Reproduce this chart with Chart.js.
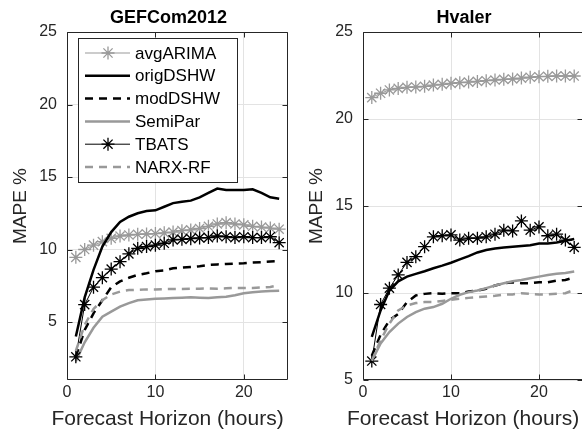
<!DOCTYPE html>
<html>
<head>
<meta charset="utf-8">
<script src="https://cdn.jsdelivr.net/npm/chart.js"></script>
<style>
  html, body { margin: 0; padding: 0; background: #fff; overflow: hidden; }
  #wrap { position: relative; width: 582px; height: 441px; overflow: hidden; }
  canvas { position: absolute; top: 0; }
  #left { left: 0; }
  #right { left: 296px; }
</style>
</head>
<body>
<div id="wrap">
  <canvas id="left" width="300" height="441"></canvas>
  <canvas id="right" width="287" height="441"></canvas>
</div>
<script>
// forecast horizon (hours)
const hours = [1, 2, 3, 4, 5, 6, 7, 8, 9, 10, 11, 12, 13, 14, 15, 16, 17, 18, 19, 20, 21, 22, 23, 24];
const seriesNames = ['avgARIMA', 'origDSHW', 'modDSHW', 'SemiPar', 'TBATS', 'NARX-RF'];
const xTicks = [0, 10, 20];
const yTicksLeft = [5, 10, 15, 20, 25];
const yTicksRight = [5, 10, 15, 20, 25];

// GEFCom2012 MAPE %
const gefArima = [9.46, 10.0, 10.3, 10.54, 10.77, 10.93, 11.0, 11.05, 11.07, 11.1, 11.15, 11.2, 11.3, 11.35, 11.45, 11.6, 11.76, 11.85, 11.76, 11.7, 11.6, 11.55, 11.48, 11.4];
const gefOrig = [4.0, 6.7, 8.6, 10.2, 11.2, 11.9, 12.26, 12.5, 12.66, 12.7, 12.95, 13.2, 13.3, 13.37, 13.6, 13.9, 14.2, 14.1, 14.1, 14.1, 14.15, 13.9, 13.6, 13.5];
const gefMod = [2.6, 4.45, 5.6, 6.5, 7.4, 7.8, 8.05, 8.25, 8.36, 8.5, 8.55, 8.7, 8.75, 8.8, 8.85, 8.93, 8.97, 9.0, 9.03, 9.05, 9.1, 9.13, 9.17, 9.2];
const gefSemi = [2.3, 3.6, 4.6, 5.37, 5.71, 6.06, 6.3, 6.5, 6.55, 6.6, 6.62, 6.65, 6.68, 6.7, 6.68, 6.65, 6.7, 6.74, 6.85, 6.98, 7.05, 7.1, 7.13, 7.16];
const gefTbats = [2.6, 6.2, 7.4, 8.06, 8.65, 9.16, 9.7, 10.08, 10.2, 10.3, 10.43, 10.66, 10.7, 10.75, 10.8, 10.82, 10.93, 10.88, 10.82, 10.88, 10.82, 10.82, 10.88, 10.47];
const gefNarx = [3.0, 4.8, 5.9, 6.5, 6.9, 7.1, 7.2, 7.22, 7.25, 7.25, 7.27, 7.28, 7.28, 7.3, 7.3, 7.32, 7.3, 7.32, 7.35, 7.35, 7.35, 7.38, 7.42, 7.55];

// Hvaler MAPE %
const hvArima = [21.23, 21.48, 21.67, 21.76, 21.82, 21.84, 21.88, 21.95, 21.99, 22.05, 22.09, 22.12, 22.16, 22.2, 22.24, 22.28, 22.3, 22.35, 22.4, 22.43, 22.45, 22.47, 22.47, 22.47];
const hvOrig = [7.48, 9.0, 10.14, 10.67, 10.94, 11.1, 11.25, 11.42, 11.57, 11.74, 11.93, 12.12, 12.33, 12.47, 12.56, 12.62, 12.66, 12.7, 12.75, 12.85, 12.85, 12.9, 13.0, 13.1];
const hvMod = [6.4, 7.6, 8.43, 8.8, 9.47, 9.86, 9.95, 9.99, 9.95, 9.99, 9.99, 10.08, 10.14, 10.24, 10.43, 10.56, 10.62, 10.56, 10.56, 10.62, 10.62, 10.71, 10.75, 10.9];
const hvSemi = [6.1, 7.1, 7.76, 8.24, 8.62, 8.9, 9.1, 9.19, 9.38, 9.67, 9.9, 10.05, 10.14, 10.28, 10.43, 10.56, 10.67, 10.75, 10.85, 10.94, 11.04, 11.1, 11.15, 11.23];
const hvTbats = [6.09, 9.34, 10.28, 11.04, 11.76, 12.09, 12.66, 13.23, 13.29, 13.34, 13.04, 13.15, 13.15, 13.23, 13.38, 13.61, 13.57, 14.14, 13.61, 13.8, 13.29, 13.38, 13.04, 12.62];
const hvNarx = [6.1, 7.29, 8.24, 9.0, 9.29, 9.42, 9.48, 9.48, 9.54, 9.61, 9.67, 9.72, 9.76, 9.8, 9.84, 9.9, 9.92, 9.99, 9.95, 9.92, 9.92, 9.95, 9.99, 10.18];

const FONT = '"Liberation Sans", Arial, Helvetica, sans-serif';
const AXIS = '#262626';
const GRAY = '#999999';

Chart.defaults.font.family = FONT;
Chart.defaults.color = AXIS;

const styles = [
  { borderColor: GRAY, borderWidth: 1, pointStyle: 'star', pointRadius: 6.5, pointBorderWidth: 1.3 },
  { borderColor: '#000', borderWidth: 2.5, pointRadius: 0 },
  { borderColor: '#000', borderWidth: 2.5, pointRadius: 0, borderDash: [8, 6] },
  { borderColor: GRAY, borderWidth: 2.5, pointRadius: 0 },
  { borderColor: '#000', borderWidth: 1, pointStyle: 'star', pointRadius: 6.5, pointBorderWidth: 1.3 },
  { borderColor: GRAY, borderWidth: 2.5, pointRadius: 0, borderDash: [8, 6] }
];

function makeDatasets(list) {
  return list.map((vals, i) => Object.assign({
    label: seriesNames[i],
    data: vals.map((v, k) => ({ x: hours[k], y: v })),
    pointBorderColor: styles[i].borderColor,
    pointBackgroundColor: styles[i].borderColor,
    tension: 0,
    fill: false,
    order: -i
  }, styles[i]));
}

// box, inward ticks, titles and in-axes legend like matlab
const matlabAxes = {
  id: 'matlabAxes',
  afterDraw(chart, args, opts) {
    const ctx = chart.ctx;
    const a = chart.chartArea;
    const xs = chart.scales.x, ys = chart.scales.y;
    ctx.save();
    ctx.strokeStyle = AXIS;
    ctx.lineWidth = 1;
    ctx.beginPath();
    const L = Math.round(a.left) + 0.5, R = Math.round(a.right) - 0.5;
    const T = Math.round(a.top) + 0.5, B = Math.round(a.bottom) - 0.5;
    ctx.rect(L, T, R - L, B - T);
    xs.ticks.forEach(t => {
      const px = Math.round(xs.getPixelForValue(t.value)) + 0.5;
      ctx.moveTo(px, B); ctx.lineTo(px, B - 5);
      ctx.moveTo(px, T); ctx.lineTo(px, T + 5);
    });
    ys.ticks.forEach(t => {
      const py = Math.round(ys.getPixelForValue(t.value)) + 0.5;
      ctx.moveTo(L, py); ctx.lineTo(L + 5, py);
      ctx.moveTo(R, py); ctx.lineTo(R - 5, py);
    });
    ctx.stroke();

    const cx = (a.left + a.right) / 2;
    // title
    ctx.fillStyle = '#000';
    ctx.font = 'bold 18px ' + FONT;
    ctx.textAlign = 'center';
    ctx.textBaseline = 'alphabetic';
    ctx.fillText(opts.title, cx - 9, 23);

    // x label
    ctx.fillStyle = AXIS;
    ctx.font = '21px ' + FONT;
    ctx.textBaseline = 'middle';
    ctx.fillText(opts.xLabel, cx - 10, 419);

    if (opts.legend) {
      const lx = a.left + 11, ly = a.top + 6, lw = 159, lh = 144;
      ctx.fillStyle = '#fff';
      ctx.fillRect(lx, ly, lw, lh);
      ctx.strokeStyle = AXIS;
      ctx.lineWidth = 1;
      ctx.strokeRect(Math.round(lx) + 0.5, Math.round(ly) + 0.5, lw, lh);
      ctx.font = '17px ' + FONT;
      ctx.textAlign = 'left';
      ctx.textBaseline = 'middle';
      chart.data.datasets.forEach((ds, i) => {
        const cy = ly + 15 + i * 22.8;
        ctx.save();
        ctx.strokeStyle = ds.borderColor;
        ctx.lineWidth = ds.borderWidth;
        ctx.setLineDash(ds.borderDash || []);
        ctx.beginPath();
        ctx.moveTo(lx + 7, cy);
        ctx.lineTo(lx + 52, cy);
        ctx.stroke();
        ctx.restore();
        if (ds.pointStyle === 'star') {
          ctx.save();
          ctx.strokeStyle = ds.borderColor;
          ctx.lineWidth = ds.pointBorderWidth;
          Chart.helpers.drawPoint(ctx, { pointStyle: 'star', radius: ds.pointRadius, borderWidth: ds.pointBorderWidth, rotation: 0 }, lx + 30, cy);
          ctx.restore();
        }
        ctx.fillStyle = '#000';
        ctx.fillText(ds.label, lx + 57, cy + 1);
      });
    }
    ctx.restore();
  }
};

function makeChart(id, datasets, yMin, yTicks, title, legend) {
  return new Chart(document.getElementById(id), {
    type: 'line',
    data: { datasets: datasets },
    plugins: [matlabAxes],
    options: {
      responsive: false,
      animation: false,
      devicePixelRatio: 1,
      layout: { autoPadding: false, padding: { top: 32, right: id === 'left' ? 12 : 0, left: 0, bottom: 0 } },
      plugins: {
        legend: { display: false },
        tooltip: { enabled: false },
        matlabAxes: { title: title, legend: legend, xLabel: 'Forecast Horizon (hours)' }
      },
      scales: {
        x: {
          type: 'linear',
          min: 0,
          max: 25,
          afterBuildTicks: s => { s.ticks = xTicks.map(v => ({ value: v })); },
          afterFit: s => { s.height = 61; },
          grid: { color: '#e3e3e3', drawTicks: false },
          border: { display: false },
          ticks: { padding: 3, color: AXIS, font: { size: 16 } }
        },
        y: {
          min: yMin,
          max: 25,
          afterBuildTicks: s => { s.ticks = yTicks.map(v => ({ value: v })); },
          afterFit: s => { s.width = 67; },
          grid: { color: '#e3e3e3', drawTicks: false },
          border: { display: false },
          ticks: { padding: 10, color: AXIS, font: { size: 16 } },
          title: { display: true, text: 'MAPE %', color: AXIS, font: { size: 19 }, padding: { top: 9, bottom: 0 } }
        }
      }
    }
  });
}

makeChart('left', makeDatasets([gefArima, gefOrig, gefMod, gefSemi, gefTbats, gefNarx]), 1, yTicksLeft, 'GEFCom2012', true);
makeChart('right', makeDatasets([hvArima, hvOrig, hvMod, hvSemi, hvTbats, hvNarx]), 5, yTicksRight, 'Hvaler', false);
</script>
</body>
</html>
